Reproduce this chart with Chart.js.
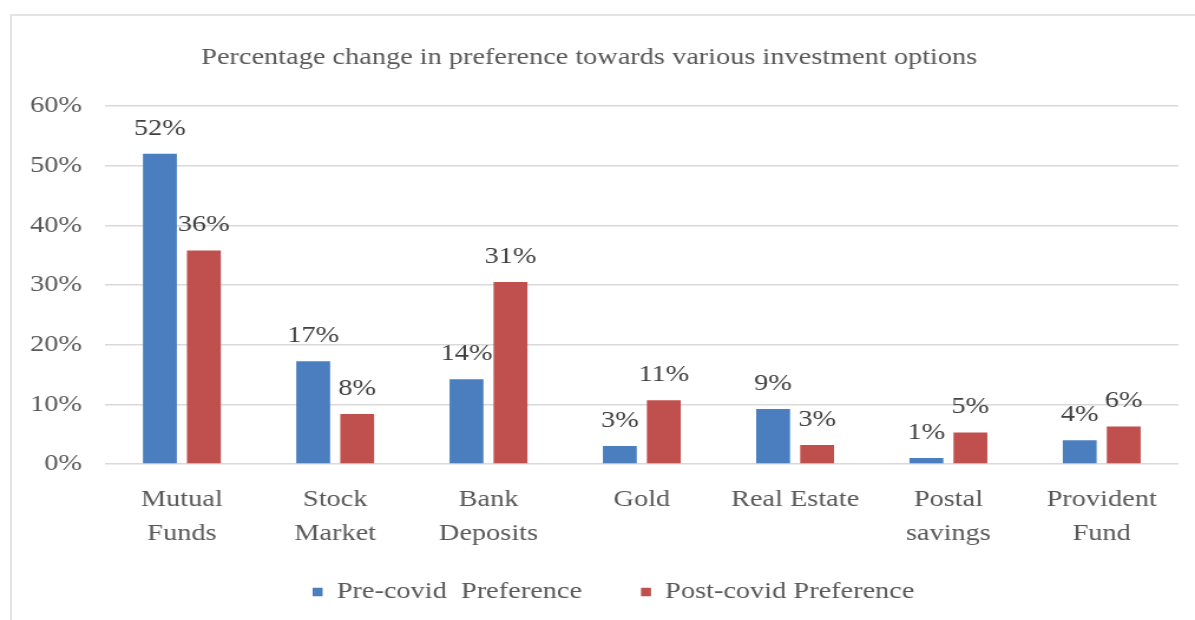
<!DOCTYPE html>
<html>
<head>
<meta charset="utf-8">
<script src="https://cdn.jsdelivr.net/npm/chart.js@4.4.1/dist/chart.umd.min.js"></script>
<style>
  html, body { margin: 0; padding: 0; background: #ffffff; overflow: hidden; width: 1195px; height: 620px; }
  #frame { position: absolute; left: 10px; top: 14px; width: 1400px; height: 800px; border: 2px solid #e3e3e3; box-sizing: border-box; }
  #wrap { position: absolute; left: 0; top: 0; height: 620px; transform-origin: 0 0; }
</style>
</head>
<body>
<div id="frame"></div>
<div id="wrap"><canvas id="c"></canvas></div>
<script>
// ---- data ----
const categories = [["Mutual", "Funds"], ["Stock", "Market"], ["Bank", "Deposits"], ["Gold"], ["Real Estate"], ["Postal", "savings"], ["Provident", "Fund"]];
const preCovid = [52, 17.2, 14.2, 3, 9.2, 1, 4];
const postCovid = [35.8, 8.4, 30.5, 10.7, 3.2, 5.3, 6.3];
const seriesNames = ["Pre-covid  Preference", "Post-covid Preference"];
const yTicks = [0, 10, 20, 30, 40, 50, 60];
const titleText = "Percentage change in preference towards various investment options";

// ---- layout (horizontal stretch of the whole picture) ----
const W = 1013, H = 620;
const K = 1195 / W;
const wrap = document.getElementById('wrap');
wrap.style.width = W + 'px';
wrap.style.transform = 'scaleX(' + K + ')';
const canvas = document.getElementById('c');
canvas.width = W; canvas.height = H;
canvas.style.width = W + 'px'; canvas.style.height = H + 'px';

const FONT = "'Liberation Serif', 'Times New Roman', serif";

const dataLabels = {
  id: 'dataLabels',
  afterDatasetsDraw(chart) {
    const ctx = chart.ctx;
    ctx.save();
    ctx.font = "24px " + FONT;
    ctx.fillStyle = '#404040';
    ctx.textAlign = 'center';
    ctx.textBaseline = 'alphabetic';
    chart.data.datasets.forEach((ds, di) => {
      const meta = chart.getDatasetMeta(di);
      meta.data.forEach((el, i) => {
        ctx.fillText(Math.round(ds.data[i]) + '%', el.x, el.y - 19);
      });
    });
    ctx.restore();
  }
};

const legendShift = {
  id: 'legendShift',
  afterLayout(chart) {
    if (chart.legend) { chart.legend.left -= 24; chart.legend.right -= 24; }
  }
};

new Chart(canvas, {
  type: 'bar',
  data: {
    labels: categories,
    datasets: [
      { label: seriesNames[0], data: preCovid, backgroundColor: '#4a7ebf', borderWidth: 0 },
      { label: seriesNames[1], data: postCovid, backgroundColor: '#c0504d', borderWidth: 0 }
    ]
  },
  options: {
    responsive: false,
    animation: false,
    devicePixelRatio: 1,
    layout: { padding: { left: 0, right: 14.1, top: 0, bottom: 6 } },
    datasets: { bar: { barPercentage: 0.77, categoryPercentage: 0.574 } },
    plugins: {
      title: {
        display: true, text: titleText, color: '#595959',
        font: { family: FONT, size: 24, weight: 'normal' },
        padding: { top: 43.6, bottom: 33.6 }
      },
      legend: {
        position: 'bottom', fullSize: false,
        labels: {
          color: '#595959', font: { family: FONT, size: 24 },
          boxWidth: 8.5, boxHeight: 8.5, padding: 50
        }
      },
      tooltip: { enabled: false }
    },
    scales: {
      x: {
        grid: { display: false, drawTicks: false },
        border: { display: false },
        ticks: { color: '#595959', font: { family: FONT, size: 24, lineHeight: 1.42 }, padding: 19, maxRotation: 0, autoSkip: false },
        afterFit(scale) { scale.height = 66; scale._computeLabelArea = () => undefined; }
      },
      y: {
        min: 0, max: 60,
        afterBuildTicks(scale) { scale.ticks = yTicks.map(v => ({ value: v })); },
        grid: { color: '#d9d9d9', lineWidth: 1.5, drawTicks: false },
        border: { display: false },
        ticks: { color: '#595959', font: { family: FONT, size: 24 }, padding: 19.7, callback: v => v + '%' },
        afterFit(scale) { scale.width = 89.2; }
      }
    }
  },
  plugins: [dataLabels, legendShift]
});
</script>
</body>
</html>
